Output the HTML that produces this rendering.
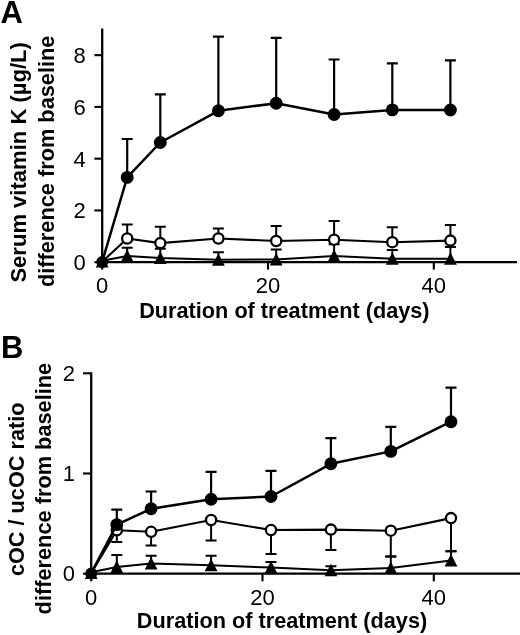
<!DOCTYPE html>
<html lang="en"><head><meta charset="utf-8"><title>Figure</title>
<style>html,body{margin:0;padding:0;background:#fff}svg{display:block}</style></head>
<body>
<svg width="520" height="635" viewBox="0 0 520 635">
<rect width="520" height="635" fill="#fff"/>
<path d="M102.2 28.5V263.2" stroke="#000" stroke-width="2.3"/>
<path d="M101.2 262.2H517" stroke="#000" stroke-width="2.3"/>
<path d="M94.4 262.2H102.2" stroke="#000" stroke-width="2.1"/>
<text transform="translate(85.8,270.1) scale(1,1.03)" text-anchor="end" font-size="22" font-family="'Liberation Sans', Arial, Helvetica, sans-serif">0</text>
<path d="M94.4 210.44H102.2" stroke="#000" stroke-width="2.1"/>
<text transform="translate(85.8,218.34) scale(1,1.03)" text-anchor="end" font-size="22" font-family="'Liberation Sans', Arial, Helvetica, sans-serif">2</text>
<path d="M94.4 158.68H102.2" stroke="#000" stroke-width="2.1"/>
<text transform="translate(85.8,166.58) scale(1,1.03)" text-anchor="end" font-size="22" font-family="'Liberation Sans', Arial, Helvetica, sans-serif">4</text>
<path d="M94.4 106.92H102.2" stroke="#000" stroke-width="2.1"/>
<text transform="translate(85.8,114.82) scale(1,1.03)" text-anchor="end" font-size="22" font-family="'Liberation Sans', Arial, Helvetica, sans-serif">6</text>
<path d="M94.4 55.16H102.2" stroke="#000" stroke-width="2.1"/>
<text transform="translate(85.8,63.06) scale(1,1.03)" text-anchor="end" font-size="22" font-family="'Liberation Sans', Arial, Helvetica, sans-serif">8</text>
<path d="M102.2 262.2V269.59999999999997" stroke="#000" stroke-width="2.1"/>
<text transform="translate(102.2,293) scale(1,1.03)" text-anchor="middle" font-size="22" font-family="'Liberation Sans', Arial, Helvetica, sans-serif">0</text>
<path d="M268 262.2V269.59999999999997" stroke="#000" stroke-width="2.1"/>
<text transform="translate(268,293) scale(1,1.03)" text-anchor="middle" font-size="22" font-family="'Liberation Sans', Arial, Helvetica, sans-serif">20</text>
<path d="M433.8 262.2V269.59999999999997" stroke="#000" stroke-width="2.1"/>
<text transform="translate(433.8,293) scale(1,1.03)" text-anchor="middle" font-size="22" font-family="'Liberation Sans', Arial, Helvetica, sans-serif">40</text>
<path d="M127.2 255.9V247.8M121.7 247.8H132.7" stroke="#000" stroke-width="2.0" fill="none"/>
<path d="M160.3 257.9V248.8M154.8 248.8H165.8" stroke="#000" stroke-width="2.0" fill="none"/>
<path d="M218.4 259.8V252.3M212.9 252.3H223.9" stroke="#000" stroke-width="2.0" fill="none"/>
<path d="M276.2 259.4V249.4M270.7 249.4H281.7" stroke="#000" stroke-width="2.0" fill="none"/>
<path d="M334.1 255.9V244.2M328.6 244.2H339.6" stroke="#000" stroke-width="2.0" fill="none"/>
<path d="M392.3 258.8V250M386.8 250H397.8" stroke="#000" stroke-width="2.0" fill="none"/>
<path d="M450.4 258.8V246.9M444.9 246.9H455.9" stroke="#000" stroke-width="2.0" fill="none"/>
<polyline points="102.2,260.7 127.2,255.9 160.3,257.9 218.4,259.8 276.2,259.4 334.1,255.9 392.3,258.8 450.4,258.8" stroke="#000" stroke-width="2" fill="none" stroke-linejoin="round"/>
<path d="M127.2 249.4L133.6 261.9H120.8Z" fill="#000"/>
<path d="M160.3 251.4L166.7 263.9H153.9Z" fill="#000"/>
<path d="M218.4 253.3L224.8 265.8H212Z" fill="#000"/>
<path d="M276.2 252.9L282.6 265.4H269.8Z" fill="#000"/>
<path d="M334.1 249.4L340.5 261.9H327.7Z" fill="#000"/>
<path d="M392.3 252.3L398.7 264.8H385.9Z" fill="#000"/>
<path d="M450.4 252.3L456.8 264.8H444Z" fill="#000"/>
<path d="M127.2 238.5V224.4M121.7 224.4H132.7" stroke="#000" stroke-width="2.0" fill="none"/>
<path d="M160.3 243.1V226.7M154.8 226.7H165.8" stroke="#000" stroke-width="2.0" fill="none"/>
<path d="M218.4 238.5V228.5M212.9 228.5H223.9" stroke="#000" stroke-width="2.0" fill="none"/>
<path d="M276.2 241V226M270.7 226H281.7" stroke="#000" stroke-width="2.0" fill="none"/>
<path d="M334.1 239.7V220.9M328.6 220.9H339.6" stroke="#000" stroke-width="2.0" fill="none"/>
<path d="M392.3 242.2V227.2M386.8 227.2H397.8" stroke="#000" stroke-width="2.0" fill="none"/>
<path d="M450.4 240.6V225M444.9 225H455.9" stroke="#000" stroke-width="2.0" fill="none"/>
<polyline points="102.2,261.7 127.2,238.5 160.3,243.1 218.4,238.5 276.2,241 334.1,239.7 392.3,242.2 450.4,240.6" stroke="#000" stroke-width="2.1" fill="none" stroke-linejoin="round"/>
<circle cx="127.2" cy="238.5" r="5.1" fill="#fff" stroke="#000" stroke-width="2.3"/>
<circle cx="160.3" cy="243.1" r="5.1" fill="#fff" stroke="#000" stroke-width="2.3"/>
<circle cx="218.4" cy="238.5" r="5.1" fill="#fff" stroke="#000" stroke-width="2.3"/>
<circle cx="276.2" cy="241" r="5.1" fill="#fff" stroke="#000" stroke-width="2.3"/>
<circle cx="334.1" cy="239.7" r="5.1" fill="#fff" stroke="#000" stroke-width="2.3"/>
<circle cx="392.3" cy="242.2" r="5.1" fill="#fff" stroke="#000" stroke-width="2.3"/>
<circle cx="450.4" cy="240.6" r="5.1" fill="#fff" stroke="#000" stroke-width="2.3"/>
<path d="M127.2 177.4V139M121.7 139H132.7" stroke="#000" stroke-width="2.2" fill="none"/>
<path d="M160.3 142.5V94.3M154.8 94.3H165.8" stroke="#000" stroke-width="2.2" fill="none"/>
<path d="M218.4 110.8V36.6M212.9 36.6H223.9" stroke="#000" stroke-width="2.2" fill="none"/>
<path d="M276.2 103.2V37.9M270.7 37.9H281.7" stroke="#000" stroke-width="2.2" fill="none"/>
<path d="M334.1 114.5V59.5M328.6 59.5H339.6" stroke="#000" stroke-width="2.2" fill="none"/>
<path d="M392.3 109.9V63.3M386.8 63.3H397.8" stroke="#000" stroke-width="2.2" fill="none"/>
<path d="M450.4 110V60.3M444.9 60.3H455.9" stroke="#000" stroke-width="2.2" fill="none"/>
<polyline points="102.2,261.7 127.2,177.4 160.3,142.5 218.4,110.8 276.2,103.2 334.1,114.5 392.3,109.9 450.4,110" stroke="#000" stroke-width="2.5" fill="none" stroke-linejoin="round"/>
<circle cx="127.2" cy="177.4" r="6.45" fill="#000"/>
<circle cx="160.3" cy="142.5" r="6.45" fill="#000"/>
<circle cx="218.4" cy="110.8" r="6.45" fill="#000"/>
<circle cx="276.2" cy="103.2" r="6.45" fill="#000"/>
<circle cx="334.1" cy="114.5" r="6.45" fill="#000"/>
<circle cx="392.3" cy="109.9" r="6.45" fill="#000"/>
<circle cx="450.4" cy="110" r="6.45" fill="#000"/>
<circle cx="102.2" cy="262" r="5.9" fill="#000"/>
<path d="M102.2 254.9L108.6 267.4H95.8Z" fill="#000"/>
<text x="0.4" y="22.6" font-size="31" font-weight="bold" font-family="'Liberation Sans', Arial, Helvetica, sans-serif">A</text>
<text transform="translate(26,282.6) rotate(-90) scale(1,1.04)" font-size="22.05" font-weight="bold" font-family="'Liberation Sans', Arial, Helvetica, sans-serif">Serum vitamin K (µg/L)</text>
<text transform="translate(53.6,287.1) rotate(-90) scale(1,1.04)" font-size="21.78" font-weight="bold" font-family="'Liberation Sans', Arial, Helvetica, sans-serif">difference from baseline</text>
<text transform="translate(139.2,317.6) scale(1,1.04)" font-size="21.7" font-weight="bold" font-family="'Liberation Sans', Arial, Helvetica, sans-serif">Duration of treatment (days)</text>
<path d="M91.2 372.3V574.7" stroke="#000" stroke-width="2.3"/>
<path d="M90.2 573.7H520" stroke="#000" stroke-width="2.3"/>
<path d="M83.0 373.3H91.2" stroke="#000" stroke-width="2.1"/>
<text transform="translate(74.9,380.8) scale(1,1.03)" text-anchor="end" font-size="22" font-family="'Liberation Sans', Arial, Helvetica, sans-serif">2</text>
<path d="M83.0 473.5H91.2" stroke="#000" stroke-width="2.1"/>
<text transform="translate(74.9,481) scale(1,1.03)" text-anchor="end" font-size="22" font-family="'Liberation Sans', Arial, Helvetica, sans-serif">1</text>
<path d="M83.0 573.7H91.2" stroke="#000" stroke-width="2.1"/>
<text transform="translate(74.9,581.2) scale(1,1.03)" text-anchor="end" font-size="22" font-family="'Liberation Sans', Arial, Helvetica, sans-serif">0</text>
<path d="M91.2 573.7V581.3000000000001" stroke="#000" stroke-width="2.1"/>
<text transform="translate(91.2,604.6) scale(1,1.03)" text-anchor="middle" font-size="22" font-family="'Liberation Sans', Arial, Helvetica, sans-serif">0</text>
<path d="M262.5 573.7V581.3000000000001" stroke="#000" stroke-width="2.1"/>
<text transform="translate(262.5,604.6) scale(1,1.03)" text-anchor="middle" font-size="22" font-family="'Liberation Sans', Arial, Helvetica, sans-serif">20</text>
<path d="M433.8 573.7V581.3000000000001" stroke="#000" stroke-width="2.1"/>
<text transform="translate(433.8,604.6) scale(1,1.03)" text-anchor="middle" font-size="22" font-family="'Liberation Sans', Arial, Helvetica, sans-serif">40</text>
<path d="M116.8 567.1V555M111.3 555H122.3" stroke="#000" stroke-width="2.0" fill="none"/>
<path d="M151.1 563.4V555.7M145.6 555.7H156.6" stroke="#000" stroke-width="2.0" fill="none"/>
<path d="M211.1 565.2V555.7M205.6 555.7H216.6" stroke="#000" stroke-width="2.0" fill="none"/>
<path d="M271 567.6V562.1M265.5 562.1H276.5" stroke="#000" stroke-width="2.0" fill="none"/>
<path d="M330.9 570.3V566.3M325.4 566.3H336.4" stroke="#000" stroke-width="2.0" fill="none"/>
<path d="M390.8 568V556.4M385.3 556.4H396.3" stroke="#000" stroke-width="2.0" fill="none"/>
<path d="M451 560.5V551.2M445.5 551.2H456.5" stroke="#000" stroke-width="2.0" fill="none"/>
<polyline points="91.2,572.2 116.8,567.1 151.1,563.4 211.1,565.2 271,567.6 330.9,570.3 390.8,568 451,560.5" stroke="#000" stroke-width="2" fill="none" stroke-linejoin="round"/>
<path d="M116.8 560.6L123.2 573.1H110.4Z" fill="#000"/>
<path d="M151.1 556.9L157.5 569.4H144.7Z" fill="#000"/>
<path d="M211.1 558.7L217.5 571.2H204.7Z" fill="#000"/>
<path d="M271 561.1L277.4 573.6H264.6Z" fill="#000"/>
<path d="M330.9 563.8L337.3 576.3H324.5Z" fill="#000"/>
<path d="M390.8 561.5L397.2 574H384.4Z" fill="#000"/>
<path d="M451 554L457.4 566.5H444.6Z" fill="#000"/>
<path d="M116.8 530.3V542M111.3 542H122.3" stroke="#000" stroke-width="2.0" fill="none"/>
<path d="M151.1 531.8V545.6M145.6 545.6H156.6" stroke="#000" stroke-width="2.0" fill="none"/>
<path d="M211.1 520V540.6M205.6 540.6H216.6" stroke="#000" stroke-width="2.0" fill="none"/>
<path d="M271 530V554M265.5 554H276.5" stroke="#000" stroke-width="2.0" fill="none"/>
<path d="M330.9 529.6V550.1M325.4 550.1H336.4" stroke="#000" stroke-width="2.0" fill="none"/>
<path d="M390.8 530.7V556.4M385.3 556.4H396.3" stroke="#000" stroke-width="2.0" fill="none"/>
<path d="M451 518.1V551.2M445.5 551.2H456.5" stroke="#000" stroke-width="2.0" fill="none"/>
<polyline points="91.2,573.2 116.8,530.3 151.1,531.8 211.1,520 271,530 330.9,529.6 390.8,530.7 451,518.1" stroke="#000" stroke-width="2.1" fill="none" stroke-linejoin="round"/>
<circle cx="116.8" cy="530.3" r="5.1" fill="#fff" stroke="#000" stroke-width="2.3"/>
<circle cx="151.1" cy="531.8" r="5.1" fill="#fff" stroke="#000" stroke-width="2.3"/>
<circle cx="211.1" cy="520" r="5.1" fill="#fff" stroke="#000" stroke-width="2.3"/>
<circle cx="271" cy="530" r="5.1" fill="#fff" stroke="#000" stroke-width="2.3"/>
<circle cx="330.9" cy="529.6" r="5.1" fill="#fff" stroke="#000" stroke-width="2.3"/>
<circle cx="390.8" cy="530.7" r="5.1" fill="#fff" stroke="#000" stroke-width="2.3"/>
<circle cx="451" cy="518.1" r="5.1" fill="#fff" stroke="#000" stroke-width="2.3"/>
<path d="M116.8 524.6V509.6M111.3 509.6H122.3" stroke="#000" stroke-width="2.2" fill="none"/>
<path d="M151.1 508.8V491.5M145.6 491.5H156.6" stroke="#000" stroke-width="2.2" fill="none"/>
<path d="M211.1 499.3V471.8M205.6 471.8H216.6" stroke="#000" stroke-width="2.2" fill="none"/>
<path d="M271 496.5V470.8M265.5 470.8H276.5" stroke="#000" stroke-width="2.2" fill="none"/>
<path d="M330.9 463.8V438.1M325.4 438.1H336.4" stroke="#000" stroke-width="2.2" fill="none"/>
<path d="M390.8 451.4V426.8M385.3 426.8H396.3" stroke="#000" stroke-width="2.2" fill="none"/>
<path d="M451 421.7V387.7M445.5 387.7H456.5" stroke="#000" stroke-width="2.2" fill="none"/>
<polyline points="91.2,573.2 116.8,524.6 151.1,508.8 211.1,499.3 271,496.5 330.9,463.8 390.8,451.4 451,421.7" stroke="#000" stroke-width="2.5" fill="none" stroke-linejoin="round"/>
<circle cx="116.8" cy="524.6" r="6.45" fill="#000"/>
<circle cx="151.1" cy="508.8" r="6.45" fill="#000"/>
<circle cx="211.1" cy="499.3" r="6.45" fill="#000"/>
<circle cx="271" cy="496.5" r="6.45" fill="#000"/>
<circle cx="330.9" cy="463.8" r="6.45" fill="#000"/>
<circle cx="390.8" cy="451.4" r="6.45" fill="#000"/>
<circle cx="451" cy="421.7" r="6.45" fill="#000"/>
<circle cx="91.2" cy="573.5" r="5.9" fill="#000"/>
<path d="M91.2 566.4L97.6 578.9H84.8Z" fill="#000"/>
<text x="0.9" y="358.3" font-size="31" font-weight="bold" font-family="'Liberation Sans', Arial, Helvetica, sans-serif">B</text>
<text transform="translate(23.5,489.3) rotate(-90) scale(1,1.04)" text-anchor="middle" font-size="21.7" font-weight="bold" font-family="'Liberation Sans', Arial, Helvetica, sans-serif">cOC / ucOC ratio</text>
<text transform="translate(50.6,614.4) rotate(-90) scale(1,1.04)" font-size="21.78" font-weight="bold" font-family="'Liberation Sans', Arial, Helvetica, sans-serif">difference from baseline</text>
<text transform="translate(136.8,628.2) scale(1,1.04)" font-size="21.7" font-weight="bold" font-family="'Liberation Sans', Arial, Helvetica, sans-serif">Duration of treatment (days)</text>
</svg>
</body></html>
